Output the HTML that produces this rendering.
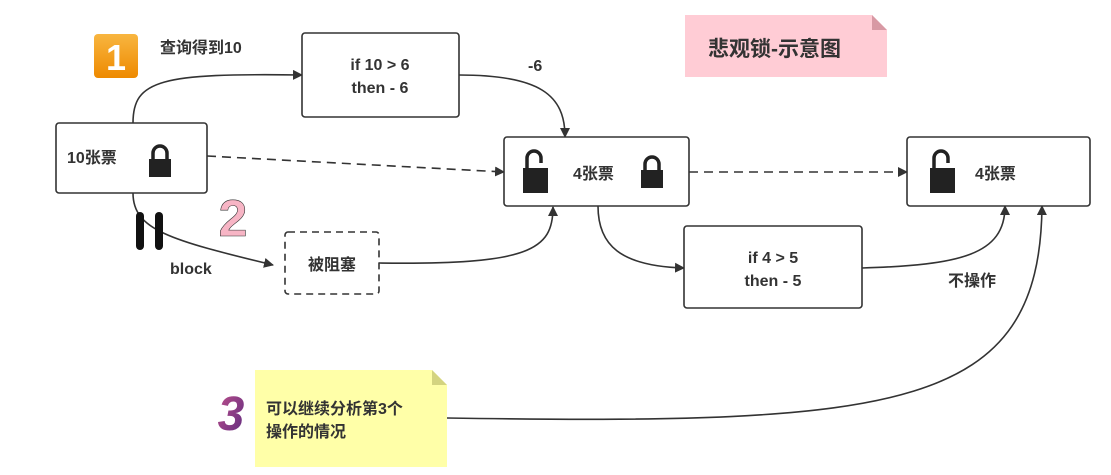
<!DOCTYPE html>
<html><head><meta charset="utf-8"><style>
html,body{margin:0;padding:0;background:#fff;}
svg{display:block;font-family:"Liberation Sans","Noto Sans CJK SC",sans-serif;}
</style></head><body>
<svg width="1111" height="475" viewBox="0 0 1111 475" xmlns="http://www.w3.org/2000/svg">
<defs>
<marker id="a" markerWidth="10" markerHeight="10" refX="9" refY="5" orient="auto" markerUnits="userSpaceOnUse"><path d="M0,0 L10,5 L0,10 z" fill="#333"/></marker>
<linearGradient id="o" x1="0" y1="0" x2="0" y2="1"><stop offset="0" stop-color="#f8b640"/><stop offset="1" stop-color="#ee8a00"/></linearGradient>
<linearGradient id="p" x1="0" y1="0" x2="1" y2="1"><stop offset="0" stop-color="#c0508a"/><stop offset="1" stop-color="#5a2a80"/></linearGradient>
<g id="lk"><path d="M4,14 V8 A7,7 0 0 1 18,8 V14" fill="none" stroke="#222" stroke-width="3.5"/><rect x="0" y="14" width="22" height="18" fill="#222"/></g>
<g id="ol"><path d="M4,18 V8 A7,7 0 0 1 18,8 V13" fill="none" stroke="#222" stroke-width="3.5"/><rect x="0" y="18" width="25" height="25" fill="#222"/></g>
</defs>
<g fill="none" stroke="#333" stroke-width="1.6">
<path d="M133,123 C133,80 160,73 302,75" marker-end="url(#a)"/>
<path d="M133,193 C133,230 170,240 273,265" marker-end="url(#a)"/>
<path d="M207,156 L504,172" stroke-dasharray="9,6" marker-end="url(#a)"/>
<path d="M379,263 C530,265 553,250 553,207" marker-end="url(#a)"/>
<path d="M459,75 C540,75 565,95 565,137" marker-end="url(#a)"/>
<path d="M598,206 C598,245 620,266 684,268" marker-end="url(#a)"/>
<path d="M689,172 L907,172" stroke-dasharray="9,6" marker-end="url(#a)"/>
<path d="M862,268 C960,265 1005,255 1005,206" marker-end="url(#a)"/>
<path d="M447,418 C900,425 1040,410 1042,206" marker-end="url(#a)"/>
</g>
<g fill="#fff" stroke="#333" stroke-width="1.6">
<rect x="56" y="123" width="151" height="70" rx="3"/>
<rect x="302" y="33" width="157" height="84" rx="3"/>
<rect x="504" y="137" width="185" height="69" rx="3"/>
<rect x="907" y="137" width="183" height="69" rx="3"/>
<rect x="684" y="226" width="178" height="82" rx="3"/>
<rect x="285" y="232" width="94" height="62" rx="3" stroke-dasharray="7,5"/>
</g>
<path d="M685,15 H872 L887,30 V77 H685 Z" fill="#ffccd5"/><path d="M872,15 L887,30 H872Z" fill="#d899a4"/>
<path d="M255,370 H432 L447,385 V467 H255 Z" fill="#ffffa8"/><path d="M432,370 L447,385 H432Z" fill="#d4d480"/>
<rect x="94" y="34" width="44" height="44" rx="4" fill="url(#o)"/>
<text x="116" y="70" font-size="36" font-weight="bold" fill="#fff" text-anchor="middle">1</text>
<text x="233" y="236" font-size="52" font-weight="bold" fill="#f7b5c5" stroke="#333" stroke-width="0.6" text-anchor="middle">2</text>
<text x="231" y="430" font-size="48" font-weight="bold" font-style="italic" fill="url(#p)" text-anchor="middle">3</text>
<rect x="136" y="212" width="8" height="38" rx="4" fill="#111"/>
<rect x="155" y="212" width="8" height="38" rx="4" fill="#111"/>
<use href="#lk" x="149" y="145"/>
<use href="#ol" x="523" y="150"/>
<use href="#lk" x="641" y="156"/>
<use href="#ol" x="930" y="150"/>
<g fill="#333" font-weight="bold" font-size="16">
<text x="160" y="53">查询得到10</text>
<text x="67" y="163">10张票</text>
<text x="380" y="70" text-anchor="middle">if 10 &gt; 6</text>
<text x="380" y="93" text-anchor="middle">then - 6</text>
<text x="528" y="71">-6</text>
<text x="573" y="179">4张票</text>
<text x="975" y="179">4张票</text>
<text x="773" y="263" text-anchor="middle">if 4 &gt; 5</text>
<text x="773" y="286" text-anchor="middle">then - 5</text>
<text x="948" y="286">不操作</text>
<text x="170" y="274">block</text>
<text x="332" y="270" text-anchor="middle">被阻塞</text>
<text x="266" y="414">可以继续分析第3个</text>
<text x="266" y="437">操作的情况</text>
<text x="708" y="56" font-size="21">悲观锁-示意图</text>
</g>
</svg>
</body></html>
